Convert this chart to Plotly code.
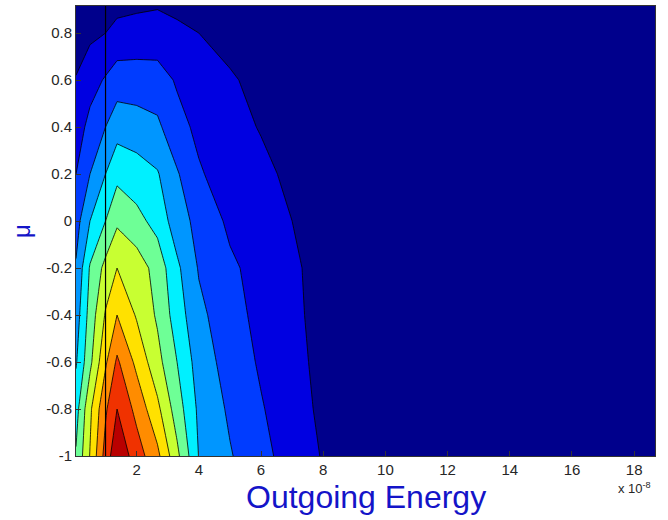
import plotly.graph_objects as go

# Outgoing energy grid (units of 1e-8) and mu grid
energy = [0.05, 0.5, 1.0, 1.37, 2.0, 2.67, 3.3, 4.0, 5.0, 6.0, 7.0, 8.0, 10.0, 18.67]
mu = [-1.0, -0.8, -0.6, -0.4, -0.2, 0.0, 0.2, 0.4, 0.6, 0.8, 0.915]

# intensity rows (one per mu value)
z_mu_m10 = [5.1, 7.05, 9.4, 10.8, 9.5, 8.25, 6.25, 3.96, 3.08, 2.3, 1.56, 0.93, 0.3, 0.0]
z_mu_m08 = [4.6, 6.8, 8.85, 10.0, 8.7, 7.24, 5.5, 3.8, 2.84, 2.08, 1.42, 0.8, 0.25, 0.0]
z_mu_m06 = [3.9, 5.75, 7.85, 9.17, 7.75, 6.33, 5.0, 3.54, 2.58, 1.87, 1.28, 0.75, 0.25, 0.0]
z_mu_m04 = [3.5, 5.4, 7.1, 8.0, 6.9, 5.85, 4.5, 3.25, 2.37, 1.72, 1.2, 0.7, 0.22, 0.0]
z_mu_m02 = [3.1, 5.1, 6.3, 7.0, 6.55, 5.6, 4.2, 2.92, 2.18, 1.63, 1.15, 0.68, 0.2, 0.0]
z_mu_p00 = [2.6, 4.0, 5.0, 5.83, 5.3, 4.66, 3.45, 2.7, 1.8, 1.45, 1.0, 0.62, 0.2, 0.0]
z_mu_p02 = [2.0, 3.0, 4.0, 4.72, 4.45, 4.08, 3.1, 2.1, 1.55, 1.2, 0.82, 0.5, 0.15, 0.0]
z_mu_p04 = [1.5, 2.3, 3.0, 3.6, 3.45, 3.2, 2.3, 1.8, 1.28, 0.95, 0.65, 0.4, 0.12, 0.0]
z_mu_p06 = [1.05, 1.6, 2.1, 2.49, 2.47, 2.4, 1.9, 1.45, 1.1, 0.75, 0.5, 0.32, 0.1, 0.0]
z_mu_p08 = [0.55, 0.8, 1.0, 1.3, 1.4, 1.45, 1.2, 1.0, 0.7, 0.5, 0.35, 0.22, 0.08, 0.0]
z_mu_p09 = [0.3, 0.45, 0.6, 0.75, 0.85, 0.93, 0.8, 0.65, 0.45, 0.32, 0.22, 0.15, 0.05, 0.0]

x_tick_vals = [2, 4, 6, 8, 10, 12, 14, 16, 18]
x_tick_text = ["2", "4", "6", "8", "10", "12", "14", "16", "18"]
y_tick_vals = [-1, -0.8, -0.6, -0.4, -0.2, 0, 0.2, 0.4, 0.6, 0.8]
y_tick_text = ["-1", "-0.8", "-0.6", "-0.4", "-0.2", "0", "0.2", "0.4", "0.6", "0.8"]

marker_energy = 1.0  # vertical black line position

z = [z_mu_m10, z_mu_m08, z_mu_m06, z_mu_m04, z_mu_m02, z_mu_p00,
     z_mu_p02, z_mu_p04, z_mu_p06, z_mu_p08, z_mu_p09]

band_colors = [
    "rgb(0,0,140)", "rgb(0,0,225)", "rgb(0,60,255)", "rgb(0,150,255)",
    "rgb(0,240,255)", "rgb(110,255,150)", "rgb(200,255,50)", "rgb(255,225,0)",
    "rgb(255,140,0)", "rgb(240,50,0)", "rgb(185,0,0)",
]
colorscale = [[i / (len(band_colors) - 1), c] for i, c in enumerate(band_colors)]

fig = go.Figure()
fig.add_trace(go.Contour(
    x=energy, y=mu, z=z,
    colorscale=colorscale, showscale=False,
    contours=dict(start=1, end=10, size=1, coloring="fill", showlines=True),
    line=dict(color="black", width=0.8, smoothing=0),
    hoverinfo="skip",
))

fig.add_shape(type="line", xref="x", yref="paper", x0=marker_energy, x1=marker_energy,
              y0=0, y1=1, line=dict(color="black", width=1.2))

tick_font = dict(family="Liberation Sans, Arial, sans-serif", size=15, color="#262626")
fig.update_xaxes(range=[0.05, 18.67], tickvals=x_tick_vals, ticktext=x_tick_text,
                 ticks="inside", ticklen=5, tickcolor="#333", tickfont=tick_font,
                 showline=True, linecolor="#333", linewidth=1, mirror=True,
                 showgrid=False, zeroline=False)
fig.update_yaxes(range=[-1, 0.915], tickvals=y_tick_vals, ticktext=y_tick_text,
                 ticks="inside", ticklen=5, tickcolor="#333", tickfont=tick_font,
                 showline=True, linecolor="#333", linewidth=1, mirror=True,
                 showgrid=False, zeroline=False)

fig.add_annotation(text="Outgoing Energy", xref="paper", yref="paper",
                   x=0.5, y=-0.092, xanchor="center", yanchor="middle", showarrow=False,
                   font=dict(family="Liberation Sans, Arial, sans-serif", size=32, color="#1414C8"))
fig.add_annotation(text="μ", xref="paper", yref="paper", textangle=-90,
                   x=-0.095, y=0.5, xanchor="center", yanchor="middle", showarrow=False,
                   font=dict(family="Liberation Sans, Arial, sans-serif", size=24, color="#1414C8"))
fig.add_annotation(text="x 10<sup>-8</sup>", xref="paper", yref="paper",
                   x=0.996, y=-0.07, xanchor="right", yanchor="middle", showarrow=False,
                   font=dict(family="Liberation Sans, Arial, sans-serif", size=13, color="#262626"))

fig.update_layout(width=668, height=520, margin=dict(l=76, r=13, t=6, b=64),
                  paper_bgcolor="white", plot_bgcolor="rgb(0,0,140)", showlegend=False)

fig.write_html("out.html", config={"displayModeBar": False, "staticPlot": True},
               post_script="document.body.style.margin='0';document.body.style.overflow='hidden';")
